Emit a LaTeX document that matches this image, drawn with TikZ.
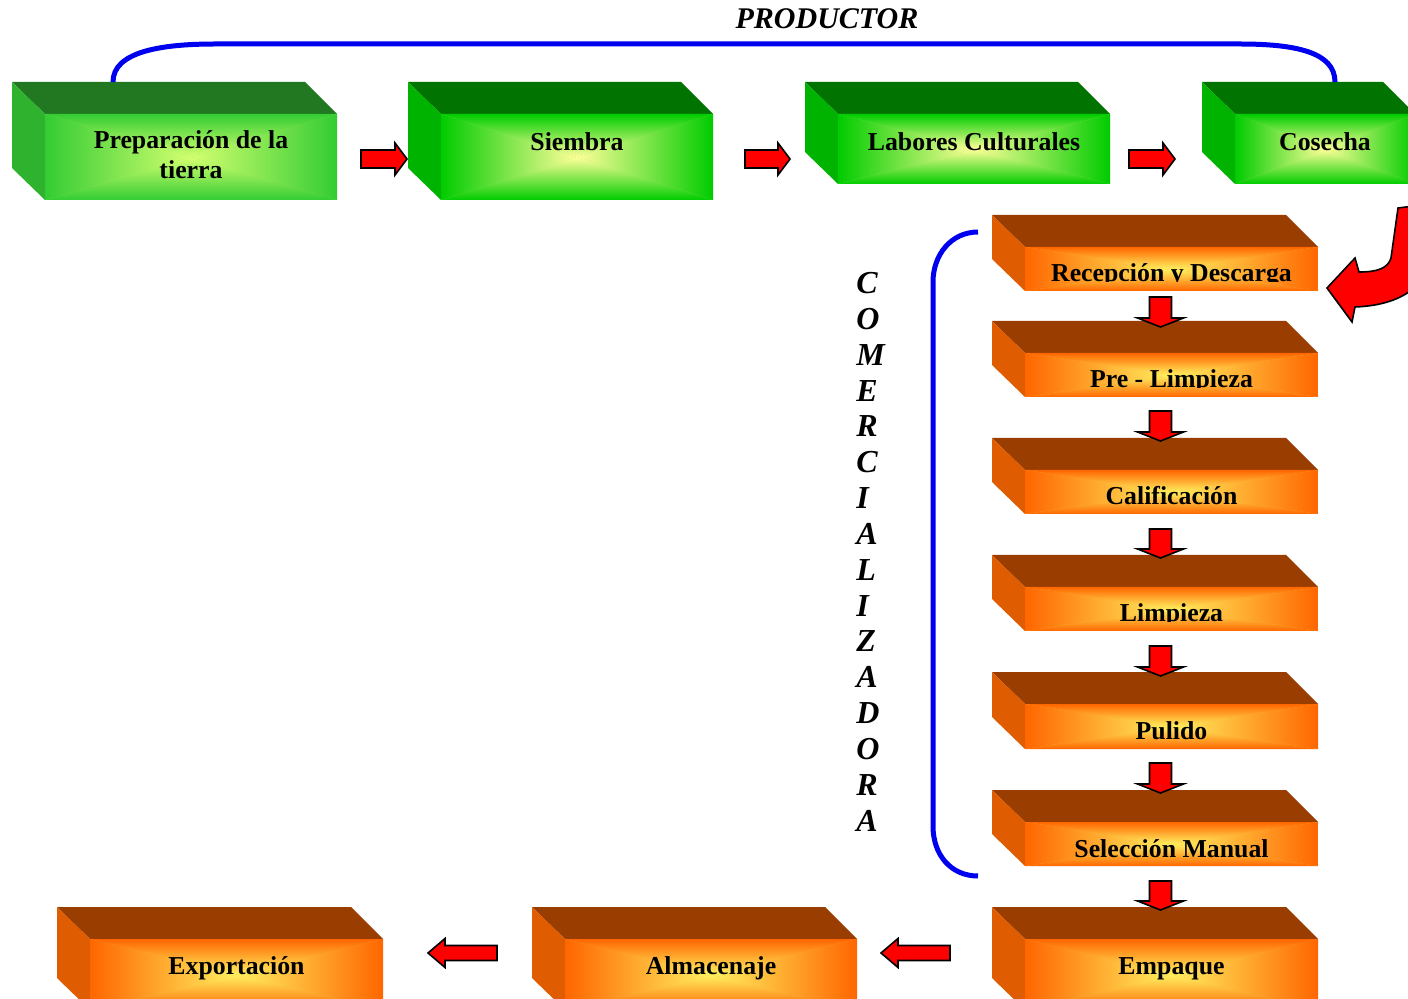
\documentclass[tikz,border=0pt]{standalone}
\usepackage{fontspec}
\setmainfont{Liberation Serif}
\usetikzlibrary{calc}

% face colours
\definecolor{gtopA}{HTML}{217821}
\definecolor{gsideA}{HTML}{2FB32F}
\definecolor{gedgeA}{HTML}{33CC33}
\definecolor{gmidA}{HTML}{D4FF70}
\definecolor{gtop}{HTML}{007300}
\definecolor{gside}{HTML}{00B300}
\definecolor{gedge}{HTML}{00CC00}
\definecolor{gmid}{HTML}{FFFF99}
\definecolor{otop}{HTML}{993D00}
\definecolor{oside}{HTML}{E05C00}
\definecolor{oedge}{HTML}{FF6600}
\definecolor{omid}{HTML}{FFF060}
\definecolor{bracketblue}{HTML}{0000F0}

% 3-D block: #1 name, #2 back-left x, #3 top y, #4 front-right x, #5 front-bottom y,
% #6 top face, #7 side face, #8 edge colour of front face, #9 centre colour of front face
\newcommand\prism[9]{%
  \fill[#6] (#2,#3) -- ({#4-32},#3) -- (#4,{#3+32}) -- ({#2+33},{#3+32}) -- cycle;
  \fill[#7] (#2,#3) -- ({#2+33},{#3+32}) -- ({#2+33},#5) -- (#2,{#5-32}) -- cycle;
  \node[inner sep=0pt, outer sep=0pt, anchor=north west,
        minimum width={(#4-#2-33)*0.5pt}, minimum height={(#5-#3-32)*0.5pt},
        fill=#8!45!#9] (#1-f) at ({#2+33},{#3+32}) {};
  \shade[top color=#8, bottom color=#9]
    (#1-f.north west) -- (#1-f.north east) -- (#1-f.center) -- cycle;
  \shade[bottom color=#8, top color=#9]
    (#1-f.south west) -- (#1-f.south east) -- (#1-f.center) -- cycle;
  \shade[left color=#8, right color=#9]
    (#1-f.north west) -- (#1-f.south west) -- (#1-f.center) -- cycle;
  \shade[right color=#8, left color=#9]
    (#1-f.north east) -- (#1-f.south east) -- (#1-f.center) -- cycle;
}

% label cut off at the lower edge of its frame
\newcommand\framedlabel[3]{%
  \begin{scope}
    \clip (#1-f.north west) rectangle ($(#1-f.south east)+(0,-9)$);
    \node[boxtxt] (#2) at ($(#1-f.north)+(0,35)$) {#3};
  \end{scope}
}

% block arrows: right, left and down
\newcommand\rarrow[2]{%
  \draw[blockarrow] let \p1=#1, \p2=#2 in
    (\x1,{\y1+4.5pt}) -- ({\x2-6pt},{\y1+4.5pt}) -- ({\x2-6pt},{\y1+8pt}) -- (\x2,\y1)
    -- ({\x2-6pt},{\y1-8pt}) -- ({\x2-6pt},{\y1-4.5pt}) -- (\x1,{\y1-4.5pt}) -- cycle;}
\newcommand\larrow[2]{%
  \draw[blockarrow] let \p1=#1, \p2=#2 in
    (\x1,{\y1+3.75pt}) -- ({\x2+8.5pt},{\y1+3.75pt}) -- ({\x2+8.5pt},{\y1+7.25pt}) -- (\x2,\y1)
    -- ({\x2+8.5pt},{\y1-7.25pt}) -- ({\x2+8.5pt},{\y1-3.75pt}) -- (\x1,{\y1-3.75pt}) -- cycle;}
\newcommand\darrow[2]{%
  \draw[blockarrow] let \p1=#1, \p2=#2 in
    ({\x1-5.5pt},\y1) -- ({\x1-5.5pt},{\y2+4.5pt}) -- ({\x1-11.5pt},{\y2+4.5pt}) -- (\x1,\y2)
    -- ({\x1+11.5pt},{\y2+4.5pt}) -- ({\x1+5.5pt},{\y2+4.5pt}) -- ({\x1+5.5pt},\y1) -- cycle;}

\begin{document}
\begin{tikzpicture}[x=0.5pt, y=-0.5pt,
  boxtxt/.style={font=\bfseries\fontsize{12.9}{15}\selectfont, inner sep=0pt, anchor=base},
  headtxt/.style={font=\bfseries\itshape\fontsize{15}{17}\selectfont, inner sep=0pt, anchor=base},
  vtxt/.style={font=\bfseries\itshape\fontsize{16}{18}\selectfont, inner sep=0pt, anchor=base west},
  blockarrow/.style={fill=red, draw=black, line width=0.8pt, line join=miter},
  bracket/.style={draw=bracketblue, line width=2.5pt}]
\useasboundingbox[fill=white] (0,0) rectangle (1408,999);

% production stage
\prism{prep}{12}{82}{337}{200}{gtopA}{gsideA}{gedgeA}{gmidA}
\prism{siem}{408}{82}{713}{200}{gtop}{gside}{gedge}{gmid}
\prism{labo}{805}{82}{1110}{184}{gtop}{gside}{gedge}{gmid}
\prism{cosh}{1202}{82}{1415}{184}{gtop}{gside}{gedge}{gmid}

\node[boxtxt] (prep-t1) at ($(prep-f.north)+(0,35)$) {Preparación de la};
\node[boxtxt] (prep-t2) at ($(prep-f.north)+(0,65)$) {tierra};
\node[boxtxt] (siem-t) at ($(siem-f.north)+(0,37)$) {Siembra};
\node[boxtxt] (labo-t) at ($(labo-f.north)+(0,37)$) {Labores Culturales};
\node[boxtxt] (cosh-t) at ($(cosh-f.north)+(0,37)$) {Cosecha};

% processing stage
\prism{rec}{992}{215}{1318}{291}{otop}{oside}{oedge}{omid}
\prism{prel}{992}{321}{1318}{397}{otop}{oside}{oedge}{omid}
\prism{cal}{992}{438}{1318}{514}{otop}{oside}{oedge}{omid}
\prism{lim}{992}{555}{1318}{631}{otop}{oside}{oedge}{omid}
\prism{pul}{992}{672}{1318}{749}{otop}{oside}{oedge}{omid}
\prism{sel}{992}{790}{1318}{866}{otop}{oside}{oedge}{omid}
\prism{emp}{992}{907}{1318}{1010}{otop}{oside}{oedge}{omid}
\prism{alm}{532}{907}{857}{1010}{otop}{oside}{oedge}{omid}
\prism{exp}{57}{907}{383}{1010}{otop}{oside}{oedge}{omid}

\framedlabel{rec}{rec-t}{Recepción y Descarga}
\framedlabel{prel}{prel-t}{Pre - Limpieza}
\framedlabel{cal}{cal-t}{Calificación}
\framedlabel{lim}{lim-t}{Limpieza}
\framedlabel{pul}{pul-t}{Pulido}
\framedlabel{sel}{sel-t}{Selección Manual}
\node[boxtxt] (emp-t) at ($(emp-f.north)+(0,35)$) {Empaque};
\node[boxtxt] (alm-t) at ($(alm-f.north)+(0,35)$) {Almacenaje};
\node[boxtxt] (exp-t) at ($(exp-f.north)+(0,35)$) {Exportación};

% flow arrows
\rarrow{($(prep-f.east)+(24,2)$)}{($(siem-f.west)+(-34,2)$)}
\rarrow{($(siem-f.east)+(32,2)$)}{($(labo-f.west |- siem-f.east)+(-48,2)$)}
\rarrow{($(labo-f.east |- siem-f.east)+(19,2)$)}{($(cosh-f.west |- siem-f.east)+(-60,2)$)}

\darrow{($(rec-f.south)+(-11,6)$)}{($(prel-f.north)+(-11,-26)$)}
\darrow{($(prel-f.south)+(-11,14)$)}{($(cal-f.north)+(-11,-29)$)}
\darrow{($(cal-f.south)+(-11,15)$)}{($(lim-f.north)+(-11,-29)$)}
\darrow{($(lim-f.south)+(-11,15)$)}{($(pul-f.north)+(-11,-28)$)}
\darrow{($(pul-f.south)+(-11,14)$)}{($(sel-f.north)+(-11,-29)$)}
\darrow{($(sel-f.south)+(-11,15)$)}{($(emp-f.north)+(-11,-29)$)}

\larrow{($(emp-f.north west)+(-75,14)$)}{($(alm-f.north east)+(24,14)$)}
\larrow{($(alm-f.north west)+(-68,14)$)}{($(exp-f.north east)+(45,14)$)}

% bent arrow from the harvest down to reception
\draw[blockarrow] (1398,208) -- (1391,258) .. controls (1388,268) and (1378,272) .. (1359,272)
  -- (1355,258) -- (1327,288) -- (1352,322) -- (1355,307)
  .. controls (1380,306) and (1400,300) .. (1414,288) -- (1414,206) -- cycle;

% stage brackets
\coordinate (pl) at ($(prep-f.north)+(-78,-32)$);
\coordinate (pr) at ($(cosh-f.north)+(10,-32)$);
\draw[bracket] (pl) .. controls +(0,-30) and +(-55,0) .. ($(pl)+(102,-38)$)
  -- ($(pr)+(-95,-38)$) .. controls +(55,0) and +(0,-30) .. (pr);
\node[headtxt] (prod) at (827,29) {PRODUCTOR};

\coordinate (ct) at ($(rec-f.north west)+(-47,-15)$);
\coordinate (cb) at ($(sel-f.south west)+(-47,10)$);
\draw[bracket] (ct) .. controls +(-27,0) and +(0,-27) .. ($(ct)+(-45,50)$)
  -- ($(cb)+(-45,-50)$) .. controls +(0,29) and +(-27,0) .. (cb);

\foreach \l [count=\i] in {C,O,M,E,R,C,I,A,L,I,Z,A,D,O,R,A}
  \node[vtxt] (v\i) at (856,{293.5+(\i-1)*35.85}) {\l};
\end{tikzpicture}
\end{document}
